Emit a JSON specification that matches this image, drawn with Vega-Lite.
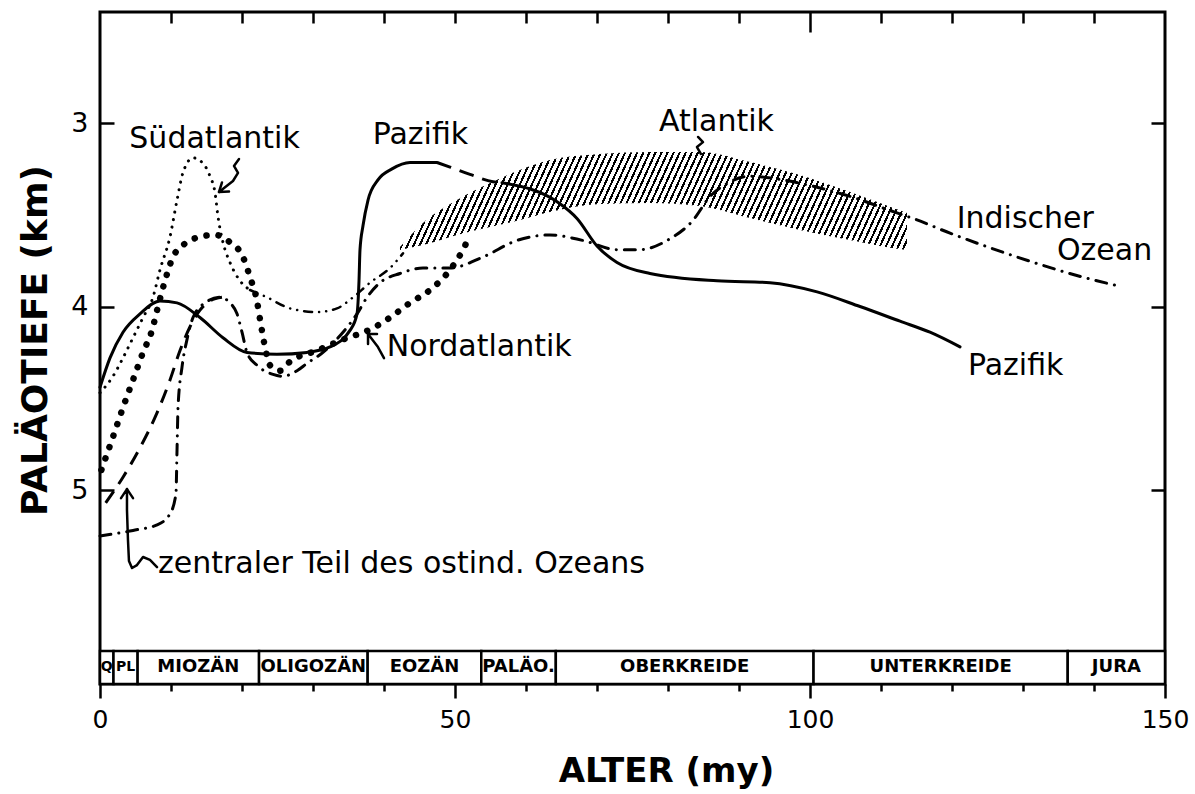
{
  "$schema": "https://vega.github.io/schema/vega-lite/v6.json",
  "width": 1065,
  "height": 672,
  "autosize": {"type": "none"},
  "padding": {"left": 100, "top": 12, "right": 30, "bottom": 110},
  "background": "white",
  "config": {
    "view": {"stroke": "black", "strokeWidth": 3},
    "axis": {"grid": false, "domain": false, "tickColor": "black", "tickWidth": 2.5, "labelColor": "black", "labelFont": "DejaVu Sans", "labelFontSize": 25, "titleFont": "DejaVu Sans", "titleColor": "black", "titleFontSize": 34, "titleFontWeight": "bold"}
  },
  "resolve": {"axis": {"x": "independent", "y": "independent"}},
  "datasets": {
    "perioden": [
      {"periode": "Q", "start": 0, "ende": 1.9},
      {"periode": "PL", "start": 1.9, "ende": 5.3},
      {"periode": "MIOZÄN", "start": 5.3, "ende": 22.4},
      {"periode": "OLIGOZÄN", "start": 22.4, "ende": 37.7},
      {"periode": "EOZÄN", "start": 37.7, "ende": 53.7},
      {"periode": "PALÄO.", "start": 53.7, "ende": 64.2},
      {"periode": "OBERKREIDE", "start": 64.2, "ende": 100.5},
      {"periode": "UNTERKREIDE", "start": 100.5, "ende": 136.3},
      {"periode": "JURA", "start": 136.3, "ende": 150}
    ],
    "atlantik": [
      {"alter": 42.25, "oben": 3.676, "unten": 3.692},
      {"alter": 45.49, "oben": 3.545, "unten": 3.665},
      {"alter": 50.28, "oben": 3.42, "unten": 3.61},
      {"alter": 54.93, "oben": 3.327, "unten": 3.567},
      {"alter": 59.15, "oben": 3.256, "unten": 3.529},
      {"alter": 63.38, "oben": 3.202, "unten": 3.485},
      {"alter": 70.42, "oben": 3.169, "unten": 3.441},
      {"alter": 77.46, "oben": 3.158, "unten": 3.436},
      {"alter": 84.51, "oben": 3.158, "unten": 3.452},
      {"alter": 91.55, "oben": 3.213, "unten": 3.518},
      {"alter": 98.59, "oben": 3.283, "unten": 3.583},
      {"alter": 105.63, "oben": 3.376, "unten": 3.638},
      {"alter": 109.86, "oben": 3.436, "unten": 3.67},
      {"alter": 113.66, "oben": 3.49, "unten": 3.692}
    ],
    "linien": [
      {"linie": "Pazifik", "teil": 1, "alter": 0, "tiefe": 4.44},
      {"linie": "Pazifik", "teil": 1, "alter": 1.41, "tiefe": 4.28},
      {"linie": "Pazifik", "teil": 1, "alter": 3.24, "tiefe": 4.14},
      {"linie": "Pazifik", "teil": 1, "alter": 5.63, "tiefe": 4.04},
      {"linie": "Pazifik", "teil": 1, "alter": 8.45, "tiefe": 3.97},
      {"linie": "Pazifik", "teil": 1, "alter": 10.85, "tiefe": 3.98},
      {"linie": "Pazifik", "teil": 1, "alter": 14.08, "tiefe": 4.06},
      {"linie": "Pazifik", "teil": 1, "alter": 17.32, "tiefe": 4.17},
      {"linie": "Pazifik", "teil": 1, "alter": 20.7, "tiefe": 4.25},
      {"linie": "Pazifik", "teil": 1, "alter": 24.93, "tiefe": 4.26},
      {"linie": "Pazifik", "teil": 1, "alter": 29.15, "tiefe": 4.25},
      {"linie": "Pazifik", "teil": 1, "alter": 32.39, "tiefe": 4.22},
      {"linie": "Pazifik", "teil": 1, "alter": 35.21, "tiefe": 4.13},
      {"linie": "Pazifik", "teil": 1, "alter": 36.2, "tiefe": 4.04},
      {"linie": "Pazifik", "teil": 1, "alter": 36.48, "tiefe": 3.86},
      {"linie": "Pazifik", "teil": 1, "alter": 36.62, "tiefe": 3.69},
      {"linie": "Pazifik", "teil": 1, "alter": 37.04, "tiefe": 3.56},
      {"linie": "Pazifik", "teil": 1, "alter": 37.75, "tiefe": 3.42},
      {"linie": "Pazifik", "teil": 1, "alter": 39.15, "tiefe": 3.31},
      {"linie": "Pazifik", "teil": 1, "alter": 41.13, "tiefe": 3.25},
      {"linie": "Pazifik", "teil": 1, "alter": 43.66, "tiefe": 3.215},
      {"linie": "Pazifik", "teil": 1, "alter": 47.46, "tiefe": 3.215},
      {"linie": "Pazifik (unsicher)", "teil": 1, "alter": 47.46, "tiefe": 3.215},
      {"linie": "Pazifik (unsicher)", "teil": 1, "alter": 49.3, "tiefe": 3.24},
      {"linie": "Pazifik (unsicher)", "teil": 1, "alter": 52.11, "tiefe": 3.28},
      {"linie": "Pazifik (unsicher)", "teil": 1, "alter": 55.35, "tiefe": 3.32},
      {"linie": "Pazifik (unsicher)", "teil": 1, "alter": 56.62, "tiefe": 3.325},
      {"linie": "Pazifik", "teil": 2, "alter": 56.62, "tiefe": 3.325},
      {"linie": "Pazifik", "teil": 2, "alter": 64.79, "tiefe": 3.44},
      {"linie": "Pazifik", "teil": 2, "alter": 67.18, "tiefe": 3.52},
      {"linie": "Pazifik", "teil": 2, "alter": 70.0, "tiefe": 3.67},
      {"linie": "Pazifik", "teil": 2, "alter": 72.82, "tiefe": 3.76},
      {"linie": "Pazifik", "teil": 2, "alter": 77.46, "tiefe": 3.82},
      {"linie": "Pazifik", "teil": 2, "alter": 86.9, "tiefe": 3.86},
      {"linie": "Pazifik", "teil": 2, "alter": 94.37, "tiefe": 3.87},
      {"linie": "Pazifik", "teil": 2, "alter": 101.0, "tiefe": 3.92},
      {"linie": "Pazifik", "teil": 2, "alter": 107.04, "tiefe": 4.0},
      {"linie": "Pazifik", "teil": 2, "alter": 112.68, "tiefe": 4.08},
      {"linie": "Pazifik", "teil": 2, "alter": 116.9, "tiefe": 4.14},
      {"linie": "Pazifik", "teil": 2, "alter": 121.13, "tiefe": 4.22},
      {"linie": "Südatlantik", "teil": 1, "alter": 0, "tiefe": 4.47},
      {"linie": "Südatlantik", "teil": 1, "alter": 1.83, "tiefe": 4.38},
      {"linie": "Südatlantik", "teil": 1, "alter": 3.24, "tiefe": 4.28},
      {"linie": "Südatlantik", "teil": 1, "alter": 4.65, "tiefe": 4.17},
      {"linie": "Südatlantik", "teil": 1, "alter": 6.06, "tiefe": 4.06},
      {"linie": "Südatlantik", "teil": 1, "alter": 7.46, "tiefe": 3.95},
      {"linie": "Südatlantik", "teil": 1, "alter": 8.45, "tiefe": 3.8},
      {"linie": "Südatlantik", "teil": 1, "alter": 9.86, "tiefe": 3.62},
      {"linie": "Südatlantik", "teil": 1, "alter": 10.85, "tiefe": 3.42},
      {"linie": "Südatlantik", "teil": 1, "alter": 11.69, "tiefe": 3.27},
      {"linie": "Südatlantik", "teil": 1, "alter": 13.1, "tiefe": 3.19},
      {"linie": "Südatlantik", "teil": 1, "alter": 14.51, "tiefe": 3.22},
      {"linie": "Südatlantik", "teil": 1, "alter": 15.49, "tiefe": 3.29},
      {"linie": "Südatlantik", "teil": 1, "alter": 16.2, "tiefe": 3.38},
      {"linie": "Südatlantik", "teil": 1, "alter": 16.62, "tiefe": 3.51},
      {"linie": "Südatlantik", "teil": 1, "alter": 17.32, "tiefe": 3.65},
      {"linie": "Südatlantik", "teil": 1, "alter": 18.31, "tiefe": 3.76},
      {"linie": "Südatlantik", "teil": 1, "alter": 19.72, "tiefe": 3.86},
      {"linie": "Südatlantik", "teil": 1, "alter": 21.13, "tiefe": 3.91},
      {"linie": "Südatlantik (Fortsetzung)", "teil": 1, "alter": 21.13, "tiefe": 3.91},
      {"linie": "Südatlantik (Fortsetzung)", "teil": 1, "alter": 23.52, "tiefe": 3.95},
      {"linie": "Südatlantik (Fortsetzung)", "teil": 1, "alter": 26.76, "tiefe": 4.01},
      {"linie": "Südatlantik (Fortsetzung)", "teil": 1, "alter": 30.56, "tiefe": 4.03},
      {"linie": "Südatlantik (Fortsetzung)", "teil": 1, "alter": 33.38, "tiefe": 4.01},
      {"linie": "Südatlantik (Fortsetzung)", "teil": 1, "alter": 35.63, "tiefe": 3.95},
      {"linie": "Südatlantik (Fortsetzung)", "teil": 1, "alter": 38.03, "tiefe": 3.87},
      {"linie": "Südatlantik (Fortsetzung)", "teil": 1, "alter": 40.85, "tiefe": 3.79},
      {"linie": "Südatlantik (Fortsetzung)", "teil": 1, "alter": 42.68, "tiefe": 3.71},
      {"linie": "Nordatlantik", "teil": 1, "alter": 0.2, "tiefe": 4.89},
      {"linie": "Nordatlantik", "teil": 1, "alter": 1.83, "tiefe": 4.71},
      {"linie": "Nordatlantik", "teil": 1, "alter": 3.24, "tiefe": 4.55},
      {"linie": "Nordatlantik", "teil": 1, "alter": 4.65, "tiefe": 4.4},
      {"linie": "Nordatlantik", "teil": 1, "alter": 6.06, "tiefe": 4.25},
      {"linie": "Nordatlantik", "teil": 1, "alter": 7.32, "tiefe": 4.13},
      {"linie": "Nordatlantik", "teil": 1, "alter": 8.17, "tiefe": 4.0},
      {"linie": "Nordatlantik", "teil": 1, "alter": 9.15, "tiefe": 3.86},
      {"linie": "Nordatlantik", "teil": 1, "alter": 10.28, "tiefe": 3.73},
      {"linie": "Nordatlantik", "teil": 1, "alter": 12.25, "tiefe": 3.65},
      {"linie": "Nordatlantik", "teil": 1, "alter": 14.08, "tiefe": 3.62},
      {"linie": "Nordatlantik", "teil": 1, "alter": 16.2, "tiefe": 3.61},
      {"linie": "Nordatlantik", "teil": 1, "alter": 18.31, "tiefe": 3.65},
      {"linie": "Nordatlantik", "teil": 1, "alter": 20.14, "tiefe": 3.73},
      {"linie": "Nordatlantik", "teil": 1, "alter": 21.13, "tiefe": 3.84},
      {"linie": "Nordatlantik", "teil": 1, "alter": 22.11, "tiefe": 3.97},
      {"linie": "Nordatlantik", "teil": 1, "alter": 22.54, "tiefe": 4.07},
      {"linie": "Nordatlantik", "teil": 1, "alter": 23.24, "tiefe": 4.22},
      {"linie": "Nordatlantik", "teil": 1, "alter": 23.94, "tiefe": 4.32},
      {"linie": "Nordatlantik", "teil": 1, "alter": 25.35, "tiefe": 4.35},
      {"linie": "Nordatlantik", "teil": 1, "alter": 26.76, "tiefe": 4.3},
      {"linie": "Nordatlantik", "teil": 1, "alter": 30.56, "tiefe": 4.24},
      {"linie": "Nordatlantik", "teil": 1, "alter": 34.23, "tiefe": 4.18},
      {"linie": "Nordatlantik", "teil": 1, "alter": 38.31, "tiefe": 4.12},
      {"linie": "Nordatlantik", "teil": 1, "alter": 40.85, "tiefe": 4.06},
      {"linie": "Nordatlantik", "teil": 1, "alter": 43.66, "tiefe": 3.98},
      {"linie": "Nordatlantik", "teil": 1, "alter": 46.48, "tiefe": 3.91},
      {"linie": "Nordatlantik", "teil": 1, "alter": 49.3, "tiefe": 3.8},
      {"linie": "Nordatlantik", "teil": 1, "alter": 51.13, "tiefe": 3.69},
      {"linie": "Nordatlantik", "teil": 1, "alter": 52.11, "tiefe": 3.61},
      {"linie": "zentraler Teil des ostind. Ozeans", "teil": 1, "alter": 0.8, "tiefe": 5.07},
      {"linie": "zentraler Teil des ostind. Ozeans", "teil": 1, "alter": 3.24, "tiefe": 4.93},
      {"linie": "zentraler Teil des ostind. Ozeans", "teil": 1, "alter": 5.63, "tiefe": 4.77},
      {"linie": "zentraler Teil des ostind. Ozeans", "teil": 1, "alter": 8.03, "tiefe": 4.58},
      {"linie": "zentraler Teil des ostind. Ozeans", "teil": 1, "alter": 9.86, "tiefe": 4.4},
      {"linie": "zentraler Teil des ostind. Ozeans", "teil": 1, "alter": 11.27, "tiefe": 4.24},
      {"linie": "zentraler Teil des ostind. Ozeans", "teil": 1, "alter": 12.68, "tiefe": 4.11},
      {"linie": "zentraler Teil des ostind. Ozeans", "teil": 1, "alter": 14.08, "tiefe": 4.02},
      {"linie": "zentraler Teil des ostind. Ozeans", "teil": 1, "alter": 15.49, "tiefe": 3.97},
      {"linie": "zentraler Teil des ostind. Ozeans", "teil": 1, "alter": 17.18, "tiefe": 3.95},
      {"linie": "Indischer Ozean", "teil": 1, "alter": 0, "tiefe": 5.25},
      {"linie": "Indischer Ozean", "teil": 1, "alter": 4.65, "tiefe": 5.22},
      {"linie": "Indischer Ozean", "teil": 1, "alter": 8.03, "tiefe": 5.19},
      {"linie": "Indischer Ozean", "teil": 1, "alter": 9.86, "tiefe": 5.13},
      {"linie": "Indischer Ozean", "teil": 1, "alter": 10.7, "tiefe": 5.02},
      {"linie": "Indischer Ozean", "teil": 1, "alter": 10.85, "tiefe": 4.78},
      {"linie": "Indischer Ozean", "teil": 1, "alter": 10.99, "tiefe": 4.55},
      {"linie": "Indischer Ozean", "teil": 1, "alter": 11.55, "tiefe": 4.33},
      {"linie": "Indischer Ozean", "teil": 1, "alter": 12.25, "tiefe": 4.18},
      {"linie": "Indischer Ozean", "teil": 1, "alter": 13.1, "tiefe": 4.06},
      {"linie": "Indischer Ozean", "teil": 1, "alter": 14.79, "tiefe": 3.98},
      {"linie": "Indischer Ozean", "teil": 1, "alter": 16.9, "tiefe": 3.95},
      {"linie": "Indischer Ozean", "teil": 1, "alter": 18.31, "tiefe": 3.98},
      {"linie": "Indischer Ozean", "teil": 1, "alter": 19.3, "tiefe": 4.04},
      {"linie": "Indischer Ozean", "teil": 1, "alter": 20.0, "tiefe": 4.14},
      {"linie": "Indischer Ozean", "teil": 1, "alter": 20.7, "tiefe": 4.25},
      {"linie": "Indischer Ozean", "teil": 1, "alter": 22.11, "tiefe": 4.32},
      {"linie": "Indischer Ozean", "teil": 1, "alter": 24.37, "tiefe": 4.37},
      {"linie": "Indischer Ozean", "teil": 1, "alter": 25.77, "tiefe": 4.38},
      {"linie": "Indischer Ozean", "teil": 1, "alter": 27.75, "tiefe": 4.35},
      {"linie": "Indischer Ozean", "teil": 1, "alter": 29.15, "tiefe": 4.31},
      {"linie": "Indischer Ozean", "teil": 1, "alter": 31.41, "tiefe": 4.25},
      {"linie": "Indischer Ozean", "teil": 1, "alter": 34.23, "tiefe": 4.14},
      {"linie": "Indischer Ozean", "teil": 1, "alter": 36.2, "tiefe": 4.04},
      {"linie": "Indischer Ozean", "teil": 1, "alter": 37.61, "tiefe": 3.95},
      {"linie": "Indischer Ozean", "teil": 1, "alter": 39.44, "tiefe": 3.87},
      {"linie": "Indischer Ozean", "teil": 1, "alter": 42.25, "tiefe": 3.82},
      {"linie": "Indischer Ozean", "teil": 1, "alter": 45.49, "tiefe": 3.79},
      {"linie": "Indischer Ozean", "teil": 1, "alter": 49.3, "tiefe": 3.79},
      {"linie": "Indischer Ozean", "teil": 1, "alter": 53.94, "tiefe": 3.73},
      {"linie": "Indischer Ozean", "teil": 1, "alter": 58.73, "tiefe": 3.64},
      {"linie": "Indischer Ozean", "teil": 1, "alter": 63.38, "tiefe": 3.61},
      {"linie": "Indischer Ozean", "teil": 1, "alter": 68.03, "tiefe": 3.64},
      {"linie": "Indischer Ozean", "teil": 1, "alter": 72.82, "tiefe": 3.69},
      {"linie": "Indischer Ozean", "teil": 1, "alter": 76.06, "tiefe": 3.69},
      {"linie": "Indischer Ozean", "teil": 1, "alter": 79.86, "tiefe": 3.64},
      {"linie": "Indischer Ozean", "teil": 1, "alter": 83.52, "tiefe": 3.53},
      {"linie": "Indischer Ozean", "teil": 1, "alter": 85.92, "tiefe": 3.4},
      {"linie": "Indischer Ozean", "teil": 1, "alter": 88.31, "tiefe": 3.33},
      {"linie": "Indischer Ozean", "teil": 1, "alter": 91.55, "tiefe": 3.29},
      {"linie": "Indischer Ozean", "teil": 1, "alter": 96.2, "tiefe": 3.31},
      {"linie": "Indischer Ozean", "teil": 1, "alter": 100.99, "tiefe": 3.35},
      {"linie": "Indischer Ozean", "teil": 1, "alter": 105.63, "tiefe": 3.4},
      {"linie": "Indischer Ozean", "teil": 1, "alter": 112.25, "tiefe": 3.49},
      {"linie": "Indischer Ozean", "teil": 1, "alter": 114.51, "tiefe": 3.52},
      {"linie": "Indischer Ozean", "teil": 1, "alter": 119.72, "tiefe": 3.6},
      {"linie": "Indischer Ozean", "teil": 1, "alter": 129.15, "tiefe": 3.73},
      {"linie": "Indischer Ozean", "teil": 1, "alter": 138.45, "tiefe": 3.84},
      {"linie": "Indischer Ozean", "teil": 1, "alter": 143.66, "tiefe": 3.89}
    ],
    "pfeile": [
      {"pfeil": "zentral", "n": 1, "alter": 8.03, "tiefe": 5.42},
      {"pfeil": "zentral", "n": 2, "alter": 7.04, "tiefe": 5.381},
      {"pfeil": "zentral", "n": 3, "alter": 6.06, "tiefe": 5.365},
      {"pfeil": "zentral", "n": 4, "alter": 5.21, "tiefe": 5.409},
      {"pfeil": "zentral", "n": 5, "alter": 4.51, "tiefe": 5.425},
      {"pfeil": "zentral", "n": 6, "alter": 4.08, "tiefe": 5.387},
      {"pfeil": "zentral", "n": 7, "alter": 3.94, "tiefe": 5.272},
      {"pfeil": "zentral", "n": 8, "alter": 3.8, "tiefe": 5.109},
      {"pfeil": "zentral", "n": 9, "alter": 3.8, "tiefe": 4.995},
      {"pfeil": "zentral", "n": 10, "alter": 2.96, "tiefe": 5.044},
      {"pfeil": "zentral-spitze", "n": 1, "alter": 3.8, "tiefe": 4.995},
      {"pfeil": "zentral-spitze", "n": 2, "alter": 4.65, "tiefe": 5.044},
      {"pfeil": "süd", "n": 1, "alter": 19.58, "tiefe": 3.196},
      {"pfeil": "süd", "n": 2, "alter": 18.87, "tiefe": 3.234},
      {"pfeil": "süd", "n": 3, "alter": 19.44, "tiefe": 3.272},
      {"pfeil": "süd", "n": 4, "alter": 18.73, "tiefe": 3.316},
      {"pfeil": "süd", "n": 5, "alter": 16.76, "tiefe": 3.376},
      {"pfeil": "süd", "n": 6, "alter": 18.17, "tiefe": 3.373},
      {"pfeil": "süd-spitze", "n": 1, "alter": 16.76, "tiefe": 3.376},
      {"pfeil": "süd-spitze", "n": 2, "alter": 17.18, "tiefe": 3.324},
      {"pfeil": "nord", "n": 1, "alter": 40.0, "tiefe": 4.281},
      {"pfeil": "nord", "n": 2, "alter": 39.15, "tiefe": 4.221},
      {"pfeil": "nord", "n": 3, "alter": 37.75, "tiefe": 4.15},
      {"pfeil": "nord", "n": 4, "alter": 37.75, "tiefe": 4.204},
      {"pfeil": "nord-spitze", "n": 1, "alter": 37.75, "tiefe": 4.15},
      {"pfeil": "nord-spitze", "n": 2, "alter": 39.01, "tiefe": 4.15},
      {"pfeil": "atlantik", "n": 1, "alter": 84.23, "tiefe": 3.076},
      {"pfeil": "atlantik", "n": 2, "alter": 84.93, "tiefe": 3.104},
      {"pfeil": "atlantik", "n": 3, "alter": 84.08, "tiefe": 3.131},
      {"pfeil": "atlantik", "n": 4, "alter": 84.65, "tiefe": 3.169}
    ],
    "texte": [
      {"text": "Südatlantik", "alter": 4.13, "tiefe": 3.087},
      {"text": "Pazifik", "alter": 38.41, "tiefe": 3.065},
      {"text": "Atlantik", "alter": 78.73, "tiefe": 2.993},
      {"text": "Indischer", "alter": 120.66, "tiefe": 3.523},
      {"text": "Ozean", "alter": 134.79, "tiefe": 3.696},
      {"text": "Pazifik", "alter": 122.25, "tiefe": 4.323},
      {"text": "Nordatlantik", "alter": 40.38, "tiefe": 4.219},
      {"text": "zentraler Teil des ostind. Ozeans", "alter": 8.17, "tiefe": 5.403}
    ]
  },
  "layer": [
    {
      "data": {"name": "perioden"},
      "mark": {"type": "rect", "fill": "white", "stroke": "black", "strokeWidth": 2.5},
      "encoding": {
        "x": {"field": "start", "type": "quantitative", "scale": {"domain": [0, 150], "nice": false, "zero": false},
              "axis": {"orient": "bottom", "values": [0, 50, 100, 150], "tickSize": 14, "labelPadding": 29, "labelBaseline": "alphabetic", "labelFlush": false, "labelAlign": "center", "title": "ALTER (my)", "titleX": 566, "titleY": 97, "titleAlign": "center", "titleBaseline": "alphabetic"}},
        "x2": {"field": "ende"},
        "y": {"datum": 5.877, "type": "quantitative", "scale": {"domain": [2.395, 6.057], "reverse": true, "nice": false, "zero": false},
              "axis": {"orient": "left", "values": [3, 4, 5], "ticks": false, "labelPadding": 12, "labelFontSize": 27, "title": "PALÄOTIEFE (km)", "titleFontSize": 36, "titleX": -65, "titleY": 328, "titleAlign": "center", "titleBaseline": "middle", "titleAngle": 270}},
        "y2": {"datum": 6.057}
      }
    },
    {
      "data": {"name": "perioden"},
      "transform": [{"filter": "length(datum.periode) > 2"}, {"calculate": "(datum.start + datum.ende) / 2", "as": "mitte"}],
      "mark": {"type": "text", "font": "DejaVu Sans", "fontSize": 18, "fontWeight": "bold", "align": "center", "baseline": "middle", "color": "black"},
      "encoding": {
        "x": {"field": "mitte", "type": "quantitative", "scale": {"domain": [0, 150], "nice": false, "zero": false},
              "axis": {"orient": "bottom", "values": [10, 20, 30, 40, 60, 70, 80, 90, 110, 120, 130, 140], "tickSize": 7, "labels": false, "title": null}},
        "y": {"datum": 5.967, "type": "quantitative", "scale": {"domain": [2.395, 6.057], "reverse": true, "nice": false, "zero": false},
              "axis": {"orient": "left", "values": [3, 4, 5], "tickSize": -14, "labels": false, "title": null}},
        "text": {"field": "periode"}
      }
    },
    {
      "data": {"name": "perioden"},
      "transform": [{"filter": "length(datum.periode) <= 2"}, {"calculate": "(datum.start + datum.ende) / 2", "as": "mitte"}],
      "mark": {"type": "text", "font": "DejaVu Sans", "fontSize": 14, "fontWeight": "bold", "align": "center", "baseline": "middle", "color": "black"},
      "encoding": {
        "x": {"field": "mitte", "type": "quantitative", "scale": {"domain": [0, 150], "nice": false, "zero": false},
              "axis": {"orient": "top", "values": [10, 20, 30, 40, 50, 60, 70, 80, 90, 110, 120, 130, 140], "tickSize": -11, "labels": false, "title": null}},
        "y": {"datum": 5.967, "type": "quantitative", "scale": {"domain": [2.395, 6.057], "reverse": true, "nice": false, "zero": false},
              "axis": {"orient": "right", "values": [3, 4, 5], "tickSize": -14, "labels": false, "title": null}},
        "text": {"field": "periode"}
      }
    },
    {
      "data": {"name": "atlantik"},
      "mark": {"type": "area", "interpolate": "monotone", "fill": {"gradient": "linear", "x1": 0, "y1": 0, "x2": 1.0788, "y2": 0.0939, "stops": [
        {"offset":0,"color":"#000"},{"offset":0.004,"color":"#000"},{"offset":0.004,"color":"#fff"},{"offset":0.011,"color":"#fff"},
        {"offset":0.011,"color":"#000"},{"offset":0.015,"color":"#000"},{"offset":0.015,"color":"#fff"},{"offset":0.022,"color":"#fff"},
        {"offset":0.022,"color":"#000"},{"offset":0.026,"color":"#000"},{"offset":0.026,"color":"#fff"},{"offset":0.033,"color":"#fff"},
        {"offset":0.033,"color":"#000"},{"offset":0.037,"color":"#000"},{"offset":0.037,"color":"#fff"},{"offset":0.044,"color":"#fff"},
        {"offset":0.044,"color":"#000"},{"offset":0.048,"color":"#000"},{"offset":0.048,"color":"#fff"},{"offset":0.055,"color":"#fff"},
        {"offset":0.055,"color":"#000"},{"offset":0.059,"color":"#000"},{"offset":0.059,"color":"#fff"},{"offset":0.066,"color":"#fff"},
        {"offset":0.066,"color":"#000"},{"offset":0.07,"color":"#000"},{"offset":0.07,"color":"#fff"},{"offset":0.077,"color":"#fff"},
        {"offset":0.077,"color":"#000"},{"offset":0.081,"color":"#000"},{"offset":0.081,"color":"#fff"},{"offset":0.088,"color":"#fff"},
        {"offset":0.088,"color":"#000"},{"offset":0.092,"color":"#000"},{"offset":0.092,"color":"#fff"},{"offset":0.099,"color":"#fff"},
        {"offset":0.099,"color":"#000"},{"offset":0.103,"color":"#000"},{"offset":0.103,"color":"#fff"},{"offset":0.11,"color":"#fff"},
        {"offset":0.11,"color":"#000"},{"offset":0.114,"color":"#000"},{"offset":0.114,"color":"#fff"},{"offset":0.121,"color":"#fff"},
        {"offset":0.121,"color":"#000"},{"offset":0.125,"color":"#000"},{"offset":0.125,"color":"#fff"},{"offset":0.132,"color":"#fff"},
        {"offset":0.132,"color":"#000"},{"offset":0.136,"color":"#000"},{"offset":0.136,"color":"#fff"},{"offset":0.143,"color":"#fff"},
        {"offset":0.143,"color":"#000"},{"offset":0.147,"color":"#000"},{"offset":0.147,"color":"#fff"},{"offset":0.154,"color":"#fff"},
        {"offset":0.154,"color":"#000"},{"offset":0.158,"color":"#000"},{"offset":0.158,"color":"#fff"},{"offset":0.165,"color":"#fff"},
        {"offset":0.165,"color":"#000"},{"offset":0.169,"color":"#000"},{"offset":0.169,"color":"#fff"},{"offset":0.176,"color":"#fff"},
        {"offset":0.176,"color":"#000"},{"offset":0.18,"color":"#000"},{"offset":0.18,"color":"#fff"},{"offset":0.187,"color":"#fff"},
        {"offset":0.187,"color":"#000"},{"offset":0.191,"color":"#000"},{"offset":0.191,"color":"#fff"},{"offset":0.198,"color":"#fff"},
        {"offset":0.198,"color":"#000"},{"offset":0.202,"color":"#000"},{"offset":0.202,"color":"#fff"},{"offset":0.209,"color":"#fff"},
        {"offset":0.209,"color":"#000"},{"offset":0.213,"color":"#000"},{"offset":0.213,"color":"#fff"},{"offset":0.22,"color":"#fff"},
        {"offset":0.22,"color":"#000"},{"offset":0.224,"color":"#000"},{"offset":0.224,"color":"#fff"},{"offset":0.231,"color":"#fff"},
        {"offset":0.231,"color":"#000"},{"offset":0.235,"color":"#000"},{"offset":0.235,"color":"#fff"},{"offset":0.242,"color":"#fff"},
        {"offset":0.242,"color":"#000"},{"offset":0.246,"color":"#000"},{"offset":0.246,"color":"#fff"},{"offset":0.253,"color":"#fff"},
        {"offset":0.253,"color":"#000"},{"offset":0.257,"color":"#000"},{"offset":0.257,"color":"#fff"},{"offset":0.264,"color":"#fff"},
        {"offset":0.264,"color":"#000"},{"offset":0.268,"color":"#000"},{"offset":0.268,"color":"#fff"},{"offset":0.275,"color":"#fff"},
        {"offset":0.275,"color":"#000"},{"offset":0.279,"color":"#000"},{"offset":0.279,"color":"#fff"},{"offset":0.286,"color":"#fff"},
        {"offset":0.286,"color":"#000"},{"offset":0.29,"color":"#000"},{"offset":0.29,"color":"#fff"},{"offset":0.297,"color":"#fff"},
        {"offset":0.297,"color":"#000"},{"offset":0.301,"color":"#000"},{"offset":0.301,"color":"#fff"},{"offset":0.308,"color":"#fff"},
        {"offset":0.308,"color":"#000"},{"offset":0.312,"color":"#000"},{"offset":0.312,"color":"#fff"},{"offset":0.319,"color":"#fff"},
        {"offset":0.319,"color":"#000"},{"offset":0.323,"color":"#000"},{"offset":0.323,"color":"#fff"},{"offset":0.33,"color":"#fff"},
        {"offset":0.33,"color":"#000"},{"offset":0.334,"color":"#000"},{"offset":0.334,"color":"#fff"},{"offset":0.341,"color":"#fff"},
        {"offset":0.341,"color":"#000"},{"offset":0.345,"color":"#000"},{"offset":0.345,"color":"#fff"},{"offset":0.352,"color":"#fff"},
        {"offset":0.352,"color":"#000"},{"offset":0.356,"color":"#000"},{"offset":0.356,"color":"#fff"},{"offset":0.363,"color":"#fff"},
        {"offset":0.363,"color":"#000"},{"offset":0.367,"color":"#000"},{"offset":0.367,"color":"#fff"},{"offset":0.374,"color":"#fff"},
        {"offset":0.374,"color":"#000"},{"offset":0.378,"color":"#000"},{"offset":0.378,"color":"#fff"},{"offset":0.385,"color":"#fff"},
        {"offset":0.385,"color":"#000"},{"offset":0.389,"color":"#000"},{"offset":0.389,"color":"#fff"},{"offset":0.396,"color":"#fff"},
        {"offset":0.396,"color":"#000"},{"offset":0.4,"color":"#000"},{"offset":0.4,"color":"#fff"},{"offset":0.407,"color":"#fff"},
        {"offset":0.407,"color":"#000"},{"offset":0.411,"color":"#000"},{"offset":0.411,"color":"#fff"},{"offset":0.418,"color":"#fff"},
        {"offset":0.418,"color":"#000"},{"offset":0.422,"color":"#000"},{"offset":0.422,"color":"#fff"},{"offset":0.429,"color":"#fff"},
        {"offset":0.429,"color":"#000"},{"offset":0.433,"color":"#000"},{"offset":0.433,"color":"#fff"},{"offset":0.44,"color":"#fff"},
        {"offset":0.44,"color":"#000"},{"offset":0.444,"color":"#000"},{"offset":0.444,"color":"#fff"},{"offset":0.451,"color":"#fff"},
        {"offset":0.451,"color":"#000"},{"offset":0.455,"color":"#000"},{"offset":0.455,"color":"#fff"},{"offset":0.462,"color":"#fff"},
        {"offset":0.462,"color":"#000"},{"offset":0.466,"color":"#000"},{"offset":0.466,"color":"#fff"},{"offset":0.473,"color":"#fff"},
        {"offset":0.473,"color":"#000"},{"offset":0.477,"color":"#000"},{"offset":0.477,"color":"#fff"},{"offset":0.484,"color":"#fff"},
        {"offset":0.484,"color":"#000"},{"offset":0.488,"color":"#000"},{"offset":0.488,"color":"#fff"},{"offset":0.495,"color":"#fff"},
        {"offset":0.495,"color":"#000"},{"offset":0.499,"color":"#000"},{"offset":0.499,"color":"#fff"},{"offset":0.506,"color":"#fff"},
        {"offset":0.506,"color":"#000"},{"offset":0.51,"color":"#000"},{"offset":0.51,"color":"#fff"},{"offset":0.517,"color":"#fff"},
        {"offset":0.517,"color":"#000"},{"offset":0.521,"color":"#000"},{"offset":0.521,"color":"#fff"},{"offset":0.528,"color":"#fff"},
        {"offset":0.528,"color":"#000"},{"offset":0.532,"color":"#000"},{"offset":0.532,"color":"#fff"},{"offset":0.539,"color":"#fff"},
        {"offset":0.539,"color":"#000"},{"offset":0.543,"color":"#000"},{"offset":0.543,"color":"#fff"},{"offset":0.55,"color":"#fff"},
        {"offset":0.55,"color":"#000"},{"offset":0.554,"color":"#000"},{"offset":0.554,"color":"#fff"},{"offset":0.561,"color":"#fff"},
        {"offset":0.561,"color":"#000"},{"offset":0.565,"color":"#000"},{"offset":0.565,"color":"#fff"},{"offset":0.572,"color":"#fff"},
        {"offset":0.572,"color":"#000"},{"offset":0.576,"color":"#000"},{"offset":0.576,"color":"#fff"},{"offset":0.583,"color":"#fff"},
        {"offset":0.583,"color":"#000"},{"offset":0.587,"color":"#000"},{"offset":0.587,"color":"#fff"},{"offset":0.594,"color":"#fff"},
        {"offset":0.594,"color":"#000"},{"offset":0.598,"color":"#000"},{"offset":0.598,"color":"#fff"},{"offset":0.605,"color":"#fff"},
        {"offset":0.605,"color":"#000"},{"offset":0.609,"color":"#000"},{"offset":0.609,"color":"#fff"},{"offset":0.616,"color":"#fff"},
        {"offset":0.616,"color":"#000"},{"offset":0.62,"color":"#000"},{"offset":0.62,"color":"#fff"},{"offset":0.627,"color":"#fff"},
        {"offset":0.627,"color":"#000"},{"offset":0.631,"color":"#000"},{"offset":0.631,"color":"#fff"},{"offset":0.638,"color":"#fff"},
        {"offset":0.638,"color":"#000"},{"offset":0.642,"color":"#000"},{"offset":0.642,"color":"#fff"},{"offset":0.649,"color":"#fff"},
        {"offset":0.649,"color":"#000"},{"offset":0.653,"color":"#000"},{"offset":0.653,"color":"#fff"},{"offset":0.66,"color":"#fff"},
        {"offset":0.66,"color":"#000"},{"offset":0.664,"color":"#000"},{"offset":0.664,"color":"#fff"},{"offset":0.671,"color":"#fff"},
        {"offset":0.671,"color":"#000"},{"offset":0.675,"color":"#000"},{"offset":0.675,"color":"#fff"},{"offset":0.682,"color":"#fff"},
        {"offset":0.682,"color":"#000"},{"offset":0.686,"color":"#000"},{"offset":0.686,"color":"#fff"},{"offset":0.693,"color":"#fff"},
        {"offset":0.693,"color":"#000"},{"offset":0.697,"color":"#000"},{"offset":0.697,"color":"#fff"},{"offset":0.704,"color":"#fff"},
        {"offset":0.704,"color":"#000"},{"offset":0.708,"color":"#000"},{"offset":0.708,"color":"#fff"},{"offset":0.715,"color":"#fff"},
        {"offset":0.715,"color":"#000"},{"offset":0.719,"color":"#000"},{"offset":0.719,"color":"#fff"},{"offset":0.726,"color":"#fff"},
        {"offset":0.726,"color":"#000"},{"offset":0.73,"color":"#000"},{"offset":0.73,"color":"#fff"},{"offset":0.737,"color":"#fff"},
        {"offset":0.737,"color":"#000"},{"offset":0.741,"color":"#000"},{"offset":0.741,"color":"#fff"},{"offset":0.748,"color":"#fff"},
        {"offset":0.748,"color":"#000"},{"offset":0.752,"color":"#000"},{"offset":0.752,"color":"#fff"},{"offset":0.759,"color":"#fff"},
        {"offset":0.759,"color":"#000"},{"offset":0.763,"color":"#000"},{"offset":0.763,"color":"#fff"},{"offset":0.77,"color":"#fff"},
        {"offset":0.77,"color":"#000"},{"offset":0.774,"color":"#000"},{"offset":0.774,"color":"#fff"},{"offset":0.781,"color":"#fff"},
        {"offset":0.781,"color":"#000"},{"offset":0.785,"color":"#000"},{"offset":0.785,"color":"#fff"},{"offset":0.792,"color":"#fff"},
        {"offset":0.792,"color":"#000"},{"offset":0.796,"color":"#000"},{"offset":0.796,"color":"#fff"},{"offset":0.803,"color":"#fff"},
        {"offset":0.803,"color":"#000"},{"offset":0.807,"color":"#000"},{"offset":0.807,"color":"#fff"},{"offset":0.814,"color":"#fff"},
        {"offset":0.814,"color":"#000"},{"offset":0.818,"color":"#000"},{"offset":0.818,"color":"#fff"},{"offset":0.825,"color":"#fff"},
        {"offset":0.825,"color":"#000"},{"offset":0.829,"color":"#000"},{"offset":0.829,"color":"#fff"},{"offset":0.836,"color":"#fff"},
        {"offset":0.836,"color":"#000"},{"offset":0.84,"color":"#000"},{"offset":0.84,"color":"#fff"},{"offset":0.847,"color":"#fff"},
        {"offset":0.847,"color":"#000"},{"offset":0.851,"color":"#000"},{"offset":0.851,"color":"#fff"},{"offset":0.858,"color":"#fff"},
        {"offset":0.858,"color":"#000"},{"offset":0.862,"color":"#000"},{"offset":0.862,"color":"#fff"},{"offset":0.869,"color":"#fff"},
        {"offset":0.869,"color":"#000"},{"offset":0.873,"color":"#000"},{"offset":0.873,"color":"#fff"},{"offset":0.88,"color":"#fff"},
        {"offset":0.88,"color":"#000"},{"offset":0.884,"color":"#000"},{"offset":0.884,"color":"#fff"},{"offset":0.891,"color":"#fff"},
        {"offset":0.891,"color":"#000"},{"offset":0.895,"color":"#000"},{"offset":0.895,"color":"#fff"},{"offset":0.902,"color":"#fff"},
        {"offset":0.902,"color":"#000"},{"offset":0.906,"color":"#000"},{"offset":0.906,"color":"#fff"},{"offset":0.913,"color":"#fff"},
        {"offset":0.913,"color":"#000"},{"offset":0.917,"color":"#000"},{"offset":0.917,"color":"#fff"},{"offset":0.924,"color":"#fff"},
        {"offset":0.924,"color":"#000"},{"offset":0.928,"color":"#000"},{"offset":0.928,"color":"#fff"},{"offset":0.935,"color":"#fff"},
        {"offset":0.935,"color":"#000"},{"offset":0.939,"color":"#000"},{"offset":0.939,"color":"#fff"},{"offset":0.946,"color":"#fff"},
        {"offset":0.946,"color":"#000"},{"offset":0.95,"color":"#000"},{"offset":0.95,"color":"#fff"},{"offset":0.957,"color":"#fff"},
        {"offset":0.957,"color":"#000"},{"offset":0.961,"color":"#000"},{"offset":0.961,"color":"#fff"},{"offset":0.968,"color":"#fff"},
        {"offset":0.968,"color":"#000"},{"offset":0.972,"color":"#000"},{"offset":0.972,"color":"#fff"},{"offset":0.979,"color":"#fff"},
        {"offset":0.979,"color":"#000"},{"offset":0.983,"color":"#000"},{"offset":0.983,"color":"#fff"},{"offset":0.99,"color":"#fff"},
        {"offset":0.99,"color":"#000"},{"offset":0.994,"color":"#000"},{"offset":0.994,"color":"#fff"},{"offset":1,"color":"#fff"}
      ]}},
      "encoding": {
        "x": {"field": "alter", "type": "quantitative", "scale": {"domain": [0, 150], "nice": false, "zero": false},
              "axis": {"orient": "top", "values": [100], "tickSize": -20, "labels": false, "title": null}},
        "y": {"field": "oben", "type": "quantitative", "scale": {"domain": [2.395, 6.057], "reverse": true, "nice": false, "zero": false}, "axis": null},
        "y2": {"field": "unten"}
      }
    },
    {
      "data": {"name": "linien"},
      "transform": [{"filter": {"field": "linie", "equal": "Pazifik"}}],
      "mark": {"type": "line", "interpolate": "monotone", "color": "black", "strokeWidth": 3, "strokeCap": "round"},
      "encoding": {
        "x": {"field": "alter", "type": "quantitative", "scale": {"domain": [0, 150], "nice": false, "zero": false}, "axis": null},
        "y": {"field": "tiefe", "type": "quantitative", "scale": {"domain": [2.395, 6.057], "reverse": true, "nice": false, "zero": false}, "axis": null},
        "detail": {"field": "teil", "type": "nominal"}
      }
    },
    {
      "data": {"name": "linien"},
      "transform": [{"filter": {"field": "linie", "equal": "Pazifik (unsicher)"}}],
      "mark": {"type": "line", "interpolate": "monotone", "color": "black", "strokeWidth": 3, "strokeDash": [15, 9]},
      "encoding": {
        "x": {"field": "alter", "type": "quantitative", "scale": {"domain": [0, 150], "nice": false, "zero": false}, "axis": null},
        "y": {"field": "tiefe", "type": "quantitative", "scale": {"domain": [2.395, 6.057], "reverse": true, "nice": false, "zero": false}, "axis": null}
      }
    },
    {
      "data": {"name": "linien"},
      "transform": [{"filter": {"field": "linie", "equal": "Südatlantik"}}],
      "mark": {"type": "line", "interpolate": "monotone", "color": "black", "strokeWidth": 3, "strokeCap": "round", "strokeDash": [0.1, 7.5]},
      "encoding": {
        "x": {"field": "alter", "type": "quantitative", "scale": {"domain": [0, 150], "nice": false, "zero": false}, "axis": null},
        "y": {"field": "tiefe", "type": "quantitative", "scale": {"domain": [2.395, 6.057], "reverse": true, "nice": false, "zero": false}, "axis": null}
      }
    },
    {
      "data": {"name": "linien"},
      "transform": [{"filter": {"field": "linie", "equal": "Südatlantik (Fortsetzung)"}}],
      "mark": {"type": "line", "interpolate": "monotone", "color": "black", "strokeWidth": 2.5, "strokeCap": "round", "strokeDash": [8, 7, 0.1, 7, 0.1, 7]},
      "encoding": {
        "x": {"field": "alter", "type": "quantitative", "scale": {"domain": [0, 150], "nice": false, "zero": false}, "axis": null},
        "y": {"field": "tiefe", "type": "quantitative", "scale": {"domain": [2.395, 6.057], "reverse": true, "nice": false, "zero": false}, "axis": null}
      }
    },
    {
      "data": {"name": "linien"},
      "transform": [{"filter": {"field": "linie", "equal": "Nordatlantik"}}],
      "mark": {"type": "line", "interpolate": "monotone", "color": "black", "strokeWidth": 6.5, "strokeCap": "round", "strokeDash": [0.1, 12]},
      "encoding": {
        "x": {"field": "alter", "type": "quantitative", "scale": {"domain": [0, 150], "nice": false, "zero": false}, "axis": null},
        "y": {"field": "tiefe", "type": "quantitative", "scale": {"domain": [2.395, 6.057], "reverse": true, "nice": false, "zero": false}, "axis": null}
      }
    },
    {
      "data": {"name": "linien"},
      "transform": [{"filter": {"field": "linie", "equal": "Indischer Ozean"}}],
      "mark": {"type": "line", "interpolate": "monotone", "color": "black", "strokeWidth": 3, "strokeCap": "round", "strokeDash": [11, 8, 0.1, 8]},
      "encoding": {
        "x": {"field": "alter", "type": "quantitative", "scale": {"domain": [0, 150], "nice": false, "zero": false}, "axis": null},
        "y": {"field": "tiefe", "type": "quantitative", "scale": {"domain": [2.395, 6.057], "reverse": true, "nice": false, "zero": false}, "axis": null}
      }
    },
    {
      "data": {"name": "linien"},
      "transform": [{"filter": {"field": "linie", "equal": "zentraler Teil des ostind. Ozeans"}}],
      "mark": {"type": "line", "interpolate": "monotone", "color": "black", "strokeWidth": 3, "strokeDash": [14, 9]},
      "encoding": {
        "x": {"field": "alter", "type": "quantitative", "scale": {"domain": [0, 150], "nice": false, "zero": false}, "axis": null},
        "y": {"field": "tiefe", "type": "quantitative", "scale": {"domain": [2.395, 6.057], "reverse": true, "nice": false, "zero": false}, "axis": null}
      }
    },
    {
      "data": {"name": "pfeile"},
      "mark": {"type": "line", "interpolate": "linear", "color": "black", "strokeWidth": 2.5, "strokeCap": "round", "strokeJoin": "round"},
      "encoding": {
        "x": {"field": "alter", "type": "quantitative", "scale": {"domain": [0, 150], "nice": false, "zero": false}, "axis": null},
        "y": {"field": "tiefe", "type": "quantitative", "scale": {"domain": [2.395, 6.057], "reverse": true, "nice": false, "zero": false}, "axis": null},
        "detail": {"field": "pfeil", "type": "nominal"},
        "order": {"field": "n", "type": "quantitative"}
      }
    },
    {
      "data": {"name": "texte"},
      "mark": {"type": "text", "font": "DejaVu Sans", "fontSize": 30, "align": "left", "baseline": "middle", "color": "black"},
      "encoding": {
        "x": {"field": "alter", "type": "quantitative", "scale": {"domain": [0, 150], "nice": false, "zero": false}, "axis": null},
        "y": {"field": "tiefe", "type": "quantitative", "scale": {"domain": [2.395, 6.057], "reverse": true, "nice": false, "zero": false}, "axis": null},
        "text": {"field": "text"}
      }
    }
  ]
}
